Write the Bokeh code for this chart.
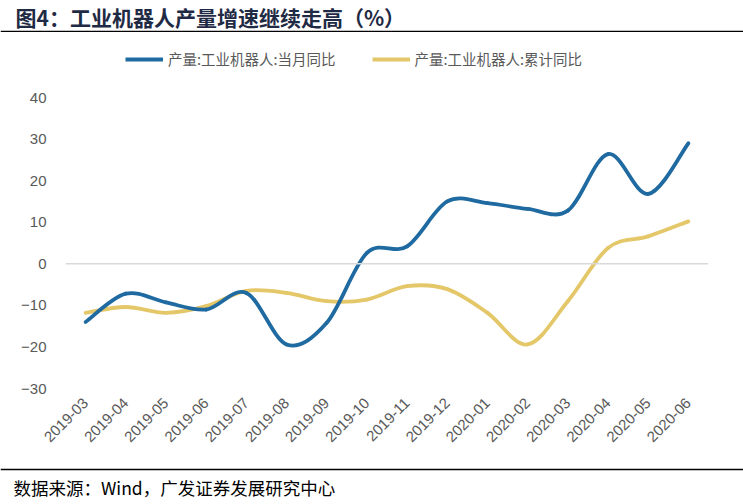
import numpy as np
from math import pi
from bokeh.plotting import figure
from bokeh.layouts import column
from bokeh.models import (FactorRange, Range1d, Span, Label, Legend, LegendItem,
                          ColumnDataSource, FixedTicker)
from bokeh.embed import file_html
from bokeh.resources import INLINE

months = ["2019-03", "2019-04", "2019-05", "2019-06", "2019-07", "2019-08",
          "2019-09", "2019-10", "2019-11", "2019-12", "2020-01", "2020-02",
          "2020-03", "2020-04", "2020-05", "2020-06"]
monthly_yoy = [-14.0, -7.2, -9.3, -11.0, -7.0, -19.4, -14.2, 2.6,
               4.2, 15.0, 14.6, 13.2, 12.8, 26.4, 16.8, 29.0]
cumulative_yoy = [-11.8, -10.4, -11.8, -10.2, -6.5, -7.0, -9.0, -8.6,
                  -5.4, -6.1, -11.8, -19.4, -9.0, 3.8, 6.6, 10.2]
y_ticks = [-30, -20, -10, 0, 10, 20, 30, 40]

title_text = "图4：工业机器人产量增速继续走高（%）"
source_text = "数据来源：Wind，广发证券发展研究中心"
name_monthly = "产量:工业机器人:当月同比"
name_cum = "产量:工业机器人:累计同比"

BLUE = "#1F6AA0"
YELLOW = "#E4C769"
GRAY = "#595959"
CJK = "Noto Sans CJK SC"

W = 743
TOP_H, MAIN_H, BOT_H = 32, 423, 49
BL, BR, BB = 65, 35, 67
frame_h = MAIN_H - BB                      # 356 px, page y 32..388
px_per_unit = 291.0 / 70.0                 # 40 at y=97, -30 at y=388
y_top = -30 + frame_h / px_per_unit


def blank(h):
    f = figure(width=W, height=h, x_range=Range1d(0, W), y_range=Range1d(h, 0),
               output_backend="svg", toolbar_location=None, x_axis_type=None,
               y_axis_type=None, min_border=0, frame_align=False)
    f.outline_line_color = None
    f.xgrid.grid_line_color = None
    f.ygrid.grid_line_color = None
    return f


# ---- top: title + rule
top = blank(TOP_H)
top.add_layout(Label(x=15, y=16, text=title_text, text_font=CJK, text_font_size="21px",
                     text_font_style="bold", text_color="#1F2A44",
                     text_baseline="middle", text_align="left"))
top.add_layout(Span(location=31, dimension="width", line_color="black", line_width=1.5))

# ---- main chart
p = figure(width=W, height=MAIN_H, x_range=FactorRange(factors=months, range_padding=0),
           y_range=Range1d(-30, y_top), output_backend="svg", toolbar_location=None,
           min_border_left=BL, min_border_right=BR, min_border_top=0,
           min_border_bottom=BB)
p.outline_line_color = None
p.xgrid.grid_line_color = None
p.ygrid.grid_line_color = None

for ax in (p.xaxis[0], p.yaxis[0]):
    ax.axis_line_color = None
    ax.major_tick_line_color = None
    ax.minor_tick_line_color = None
    ax.major_tick_in = 0
    ax.major_tick_out = 0
    ax.major_label_text_color = GRAY
    ax.major_label_text_font = "Liberation Sans"
    ax.major_label_text_font_size = "15px"
p.yaxis[0].ticker = FixedTicker(ticks=y_ticks)
p.yaxis[0].major_label_standoff = 19
p.xaxis[0].major_label_orientation = pi / 4
p.xaxis[0].major_label_standoff = 12

p.add_layout(Span(location=0, dimension="width", line_color="#D9D9D9", line_width=1.5))


def bezier_source(vals):
    n = len(vals)
    xs = np.arange(n) + 0.5
    ys = np.asarray(vals, dtype=float)
    d = dict(x0=[], y0=[], x1=[], y1=[], cx0=[], cy0=[], cx1=[], cy1=[])
    for i in range(n - 1):
        a = i - 1 if i > 0 else i
        b = i + 2 if i + 2 < n else i + 1
        d["x0"].append(xs[i]); d["y0"].append(ys[i])
        d["x1"].append(xs[i + 1]); d["y1"].append(ys[i + 1])
        d["cx0"].append(xs[i] + (xs[i + 1] - xs[a]) / 6)
        d["cy0"].append(ys[i] + (ys[i + 1] - ys[a]) / 6)
        d["cx1"].append(xs[i + 1] - (xs[b] - xs[i]) / 6)
        d["cy1"].append(ys[i + 1] - (ys[b] - ys[i]) / 6)
    return ColumnDataSource(d)


for vals, col in ((cumulative_yoy, YELLOW), (monthly_yoy, BLUE)):
    p.bezier(x0="x0", y0="y0", x1="x1", y1="y1", cx0="cx0", cy0="cy0",
             cx1="cx1", cy1="cy1", source=bezier_source(vals),
             line_color=col, line_width=3.8, line_cap="round")

# legend-only renderers (one NaN point, so nothing is drawn in the plot)
r1 = p.line(x=months[:1], y=[float("nan")], line_color=BLUE, line_width=4)
r2 = p.line(x=months[:1], y=[float("nan")], line_color=YELLOW, line_width=4)
legend = Legend(items=[LegendItem(label=name_monthly, renderers=[r1]),
                       LegendItem(label=name_cum, renderers=[r2])],
                orientation="horizontal", location=(60, frame_h - 37),
                border_line_color=None, background_fill_alpha=0,
                label_text_font=CJK, label_text_font_size="14.5px",
                label_text_color=GRAY, glyph_width=38, glyph_height=14,
                label_standoff=5, spacing=36, padding=0, margin=0)
p.add_layout(legend)

# ---- bottom: rule + source
bot = blank(BOT_H)
bot.add_layout(Span(location=14, dimension="width", line_color="black", line_width=1.5))
bot.add_layout(Label(x=13, y=32, text=source_text, text_font=CJK, text_font_size="17.5px",
                     text_color="black", text_baseline="middle", text_align="left"))

layout = column(top, p, bot, spacing=0)
open("out.html", "w").write(file_html(layout, INLINE))
